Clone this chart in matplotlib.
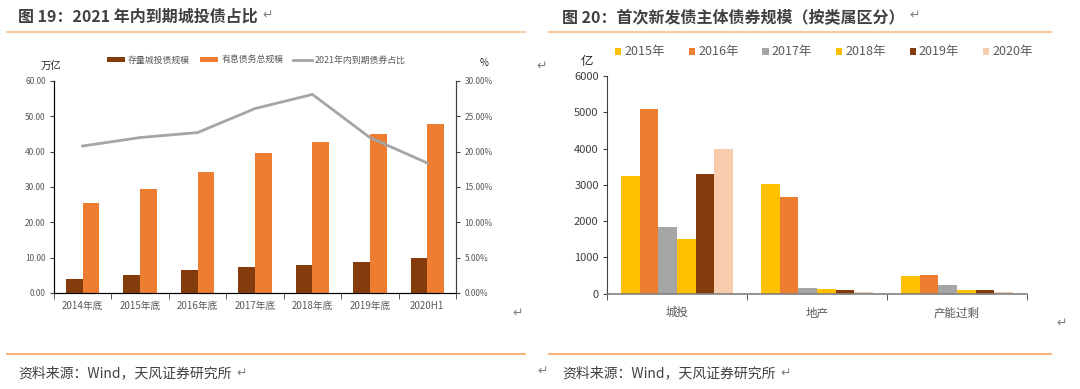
import matplotlib.pyplot as plt
from matplotlib.lines import Line2D
import numpy as np

plt.rcParams['font.family'] = ['Noto Sans CJK SC', 'DejaVu Sans']

# 图19 数据
年份 = ['2014年底', '2015年底', '2016年底', '2017年底', '2018年底', '2019年底', '2020H1']
存量城投债 = [4.0, 5.1, 6.6, 7.3, 7.8, 8.8, 9.9]
有息债务 = [25.6, 29.5, 34.2, 39.6, 42.6, 44.9, 47.9]
到期占比 = [20.8, 22.0, 22.7, 26.1, 28.1, 22.0, 18.4]

# 图20 数据
类属 = ['城投', '地产', '产能过剩']
系列 = ['2015年', '2016年', '2017年', '2018年', '2019年', '2020年']
规模 = [
    [3240, 3020, 500],
    [5080, 2665, 515],
    [1850, 150, 230],
    [1510, 140, 90],
    [3300, 92, 110],
    [3990, 55, 45],
]
颜色 = ['#FFC000', '#ED7D31', '#A5A5A5', '#FFC000', '#843C0C', '#F8CBAD']

深灰 = '#404040'
灰 = '#595959'

fig = plt.figure(figsize=(10.8, 3.89), dpi=100)

# 标题 / 分隔线 / 来源
fig.text(18 / 1080, 1 - 17 / 389, '图 19：2021 年内到期城投债占比', fontsize=11.5,
         fontweight='bold', color=深灰, va='center')
fig.text(562 / 1080, 1 - 17 / 389, '图 20：首次新发债主体债券规模（按类属区分）', fontsize=11.5,
         fontweight='bold', color=深灰, va='center')
fig.text(18 / 1080, 1 - 373 / 389, '资料来源：Wind，天风证券研究所', fontsize=10,
         color=深灰, va='center')
fig.text(562 / 1080, 1 - 373 / 389, '资料来源：Wind，天风证券研究所', fontsize=10,
         color=深灰, va='center')
for x0, x1 in [(7, 525), (549, 1051)]:
    fig.add_artist(Line2D([x0 / 1080, x1 / 1080], [1 - 32 / 389] * 2, color='#F8CBA0', lw=1.5))
    fig.add_artist(Line2D([x0 / 1080, x1 / 1080], [1 - 354 / 389] * 2, color='#F4A460', lw=1.2))

# 回车符
for x, y in [(268, 15), (915, 15), (242, 373), (786, 373), (542, 66), (518, 313), (543, 371), (1062, 323)]:
    fig.text(x / 1080, 1 - y / 389, '↵', fontsize=9, color='#808080', va='center', ha='center',
             family='DejaVu Sans')

# ---- 图19 ----
ax1 = fig.add_axes([54 / 1080, 1 - 293 / 389, 402 / 1080, 212 / 389])
x = np.arange(len(年份))
w = 0.29
ax1.bar(x - w / 2, 存量城投债, w, color='#843C0C', label='存量城投债规模')
ax1.bar(x + w / 2, 有息债务, w, color='#ED7D31', label='有息债务总规模')
ax1.set_xlim(-0.5, len(年份) - 0.5)
ax1.set_ylim(0, 60)
ax1.set_yticks(np.arange(0, 61, 10))
ax1.set_yticklabels([f'{v:.2f}' for v in np.arange(0, 61, 10)])
ax1.set_xticks(x)
ax1.set_xticklabels(年份)
ax1.set_xticks(np.arange(-0.5, len(年份)), minor=True)
ax1.tick_params(axis='x', which='major', length=0, labelsize=7, colors=灰, pad=6)
ax1.tick_params(axis='x', which='minor', length=4, direction='out', color=深灰)
ax1.tick_params(axis='y', length=3, labelsize=6, colors=灰, pad=3)
ax1.tick_params(axis='y', color=深灰)
ax1.spines['top'].set_visible(False)
for s in ['left', 'bottom', 'right']:
    ax1.spines[s].set_color(深灰)
    ax1.spines[s].set_linewidth(0.8)

ax1b = ax1.twinx()
ax1b.plot(x, 到期占比, color='#A5A5A5', lw=2, label='2021年内到期债券占比')
ax1b.set_ylim(0, 30)
ax1b.set_yticks(np.arange(0, 31, 5))
ax1b.set_yticklabels([f'{v:.2f}%' for v in np.arange(0, 31, 5)])
ax1b.tick_params(axis='y', length=3, labelsize=6, colors=灰, pad=3)
ax1b.tick_params(axis='y', color=深灰)
ax1b.spines['top'].set_visible(False)
ax1b.spines['right'].set_color(深灰)
ax1b.spines['right'].set_linewidth(0.8)

fig.text(51 / 1080, 1 - 66 / 389, '万亿', fontsize=7.5, color='#262626', va='center', ha='center')
fig.text(484 / 1080, 1 - 63 / 389, '%', fontsize=7, color='#262626', va='center', ha='center')

h1, l1 = ax1.get_legend_handles_labels()
h2, l2 = ax1b.get_legend_handles_labels()
ax1.legend(h1 + h2, l1 + l2, ncol=3, loc='center', bbox_to_anchor=(256 / 1080, 1 - 60 / 389),
           bbox_transform=fig.transFigure, frameon=False, fontsize=6.4, handlelength=2.1,
           handleheight=0.6, handletextpad=0.3, columnspacing=1.1, labelcolor=灰)

# ---- 图20 ----
ax2 = fig.add_axes([607 / 1080, 1 - 293.7 / 389, 420 / 1080, 217.7 / 389])
n = len(系列)
bw = 0.8 / n
centers = np.arange(len(类属)) + 0.5
for i, (名, vals) in enumerate(zip(系列, 规模)):
    ax2.bar(centers + (i - (n - 1) / 2) * bw, vals, bw, color=颜色[i], label=名)
ax2.set_xlim(0, len(类属))
ax2.set_ylim(0, 6000)
ax2.set_yticks(np.arange(0, 6001, 1000))
ax2.set_xticks(centers)
ax2.set_xticklabels(类属)
ax2.set_xticks(np.arange(0, len(类属) + 1), minor=True)
ax2.tick_params(axis='x', which='major', length=0, labelsize=8.3, colors=灰, pad=9)
ax2.tick_params(axis='x', which='minor', length=4, direction='out', color=深灰)
ax2.tick_params(axis='y', length=3, labelsize=8, colors=深灰, pad=3)
for s in ['top', 'right']:
    ax2.spines[s].set_visible(False)
ax2.spines['left'].set_color(深灰)
ax2.spines['left'].set_linewidth(0.8)
ax2.spines['bottom'].set_color('#808080')
ax2.spines['bottom'].set_linewidth(1.2)
fig.text(587 / 1080, 1 - 62 / 389, '亿', fontsize=9, color='#262626', va='center', ha='center')

ax2.legend(ncol=6, loc='center', bbox_to_anchor=(824 / 1080, 1 - 52 / 389),
           bbox_transform=fig.transFigure, frameon=False, fontsize=9, handlelength=0.5,
           handleheight=0.5, handletextpad=0.25, columnspacing=1.9, labelcolor=灰)

fig.savefig('out.png', dpi=100)
